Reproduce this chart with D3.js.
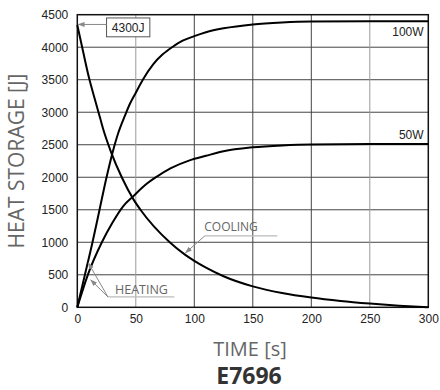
<!DOCTYPE html>
<html lang="en">
  <head>
    <meta charset="utf-8">
    <title>Heat storage</title>
    <script src="https://d3js.org/d3.v7.min.js"></script>
    <style>
      body { margin: 0; background: white; }
      .tick text { font-family: "Liberation Sans", Arial, sans-serif; font-size: 12px; fill: #222; }
      .lbl { font-family: "Open Sans", sans-serif; fill: #666; }
    </style>
  </head>
  <body>
    <svg width="440" height="390"></svg>
    <script>
      // tick values
      var timeTicks = [0, 50, 100, 150, 200, 250, 300];
      var storageTicks = [0, 500, 1000, 1500, 2000, 2500, 3000, 3500, 4000, 4500];

      // curves: [time s, heat J]
      var heating100W = [[0, 0], [6.5, 500], [13, 1000], [19, 1500], [25, 2000], [30, 2370], [35, 2680],
        [41, 2960], [45, 3130], [50, 3300], [56, 3500], [65, 3740], [73, 3890], [81, 4000], [90, 4100],
        [100, 4170], [110, 4230], [125, 4290], [150, 4350], [175, 4380], [200, 4395], [250, 4400], [300, 4400]];
      var heating50W = [[0, 0], [9, 500], [21, 1000], [30, 1300], [39, 1550], [48, 1710], [58, 1880],
        [68, 2010], [80, 2140], [96, 2260], [110, 2330], [125, 2400], [150, 2460], [175, 2490],
        [200, 2505], [250, 2510], [300, 2510]];
      var cooling = [[0, 4340], [5, 3930], [10, 3530], [15, 3200], [19.5, 2910], [22.3, 2730], [29, 2380],
        [38, 2000], [48, 1660], [54, 1500], [79, 1000], [92, 810], [100, 715], [110, 610], [125, 478],
        [150, 322], [175, 220], [200, 150], [225, 98], [250, 58], [275, 25], [300, 0]];

      function draw() {
        var svg = d3.select("svg");
        var pl = 77.3, pt = 14.7, pw = 351, ph = 292.6;
        var x = d3.scaleLinear().domain([0, 300]).range([pl, pl + pw]);
        var y = d3.scaleLinear().domain([0, 4500]).range([pt + ph, pt]);

        var defs = svg.append("defs");
        defs.append("marker").attr("id", "arr").attr("viewBox", "0 0 10 10")
          .attr("refX", 9).attr("refY", 5).attr("markerWidth", 7).attr("markerHeight", 7)
          .attr("orient", "auto")
          .append("path").attr("d", "M0,1.5 L10,5 L0,8.5 Z").attr("fill", "#888");

        // grid
        svg.append("g").selectAll("line").data(storageTicks.slice(1, -1)).enter().append("line")
          .attr("x1", pl).attr("x2", pl + pw)
          .attr("y1", function(d) { return y(d); }).attr("y2", function(d) { return y(d); })
          .attr("stroke", "#444").attr("stroke-width", 1);
        svg.append("g").selectAll("line").data(timeTicks.slice(1, -1)).enter().append("line")
          .attr("y1", pt).attr("y2", pt + ph)
          .attr("x1", function(d) { return x(d); }).attr("x2", function(d) { return x(d); })
          .attr("stroke", function(d) { return (d == 50 || d == 250) ? "#999" : "#444"; })
          .attr("stroke-width", 1);

        // axes
        svg.append("g").attr("transform", "translate(0," + (pt + ph) + ")")
          .call(d3.axisBottom(x).tickValues(timeTicks).tickSize(0).tickPadding(7).tickFormat(d3.format("d")))
          .call(function(g) { g.select(".domain").remove(); });
        svg.append("g").attr("transform", "translate(" + pl + ",0)")
          .call(d3.axisLeft(y).tickValues(storageTicks).tickSize(0).tickPadding(9).tickFormat(d3.format("d")))
          .call(function(g) { g.select(".domain").remove(); });

        svg.append("rect").attr("x", pl).attr("y", pt).attr("width", pw).attr("height", ph)
          .attr("fill", "none").attr("stroke", "#111").attr("stroke-width", 1.5);

        // curves
        var line = d3.line().x(function(d) { return x(d[0]); }).y(function(d) { return y(d[1]); })
          .curve(d3.curveMonotoneX);
        [heating100W, heating50W, cooling].forEach(function(s) {
          svg.append("path").datum(s).attr("d", line)
            .attr("fill", "none").attr("stroke", "#000").attr("stroke-width", 2);
        });

        // annotations
        svg.append("rect").attr("x", x(25)).attr("y", y(4450))
          .attr("width", x(62) - x(25)).attr("height", y(4160) - y(4450))
          .attr("fill", "white").attr("stroke", "#555").attr("stroke-width", 1);
        svg.append("text").attr("x", x(43.5)).attr("y", y(4300) + 4)
          .attr("text-anchor", "middle").attr("font-family", "Liberation Sans, Arial, sans-serif")
          .attr("font-size", 12).attr("fill", "#222").text("4300J");
        svg.append("line").attr("x1", x(25)).attr("x2", x(0.8)).attr("y1", y(4350)).attr("y2", y(4350))
          .attr("stroke", "#888").attr("stroke-width", 1).attr("marker-end", "url(#arr)");

        svg.append("text").attr("x", x(296)).attr("y", y(4180)).attr("text-anchor", "end")
          .attr("font-family", "Liberation Sans, Arial, sans-serif").attr("font-size", 12)
          .attr("fill", "#222").text("100W");
        svg.append("text").attr("x", x(296)).attr("y", y(2590)).attr("text-anchor", "end")
          .attr("font-family", "Liberation Sans, Arial, sans-serif").attr("font-size", 12)
          .attr("fill", "#222").text("50W");

        // cooling label
        svg.append("text").attr("class", "lbl").attr("x", x(108.5)).attr("y", y(1180))
          .attr("font-size", 12).text("COOLING");
        svg.append("line").attr("x1", x(109)).attr("x2", x(171)).attr("y1", y(1099)).attr("y2", y(1099))
          .attr("stroke", "#bbb").attr("stroke-width", 1.2);
        svg.append("line").attr("x1", x(109)).attr("y1", y(1099)).attr("x2", x(92.5)).attr("y2", y(837))
          .attr("stroke", "#888").attr("stroke-width", 1).attr("marker-end", "url(#arr)");

        // heating label
        svg.append("text").attr("class", "lbl").attr("x", x(32.2)).attr("y", y(205))
          .attr("font-size", 12.5).text("HEATING");
        svg.append("line").attr("x1", x(26.2)).attr("x2", x(83)).attr("y1", y(159)).attr("y2", y(159))
          .attr("stroke", "#bbb").attr("stroke-width", 1.2);
        svg.append("line").attr("x1", x(26.2)).attr("y1", y(159)).attr("x2", x(9.4)).attr("y2", y(683))
          .attr("stroke", "#888").attr("stroke-width", 1).attr("marker-end", "url(#arr)");
        svg.append("line").attr("x1", x(26.2)).attr("y1", y(159)).attr("x2", x(11.5)).attr("y2", y(421))
          .attr("stroke", "#888").attr("stroke-width", 1).attr("marker-end", "url(#arr)");

        // titles
        svg.append("text").attr("class", "lbl").attr("transform", "translate(24," + (pt + ph / 2) + ") rotate(-90)")
          .attr("text-anchor", "middle").attr("font-size", 21).attr("fill", "#555").text("HEAT STORAGE [J]");
        svg.append("text").attr("class", "lbl").attr("x", 250).attr("y", 356)
          .attr("text-anchor", "middle").attr("font-size", 20).attr("fill", "#555").text("TIME [s]");
        svg.append("text").attr("x", 249).attr("y", 384).attr("text-anchor", "middle")
          .attr("font-family", "Open Sans, sans-serif").attr("font-weight", "bold")
          .attr("font-size", 23).attr("fill", "#333").text("E7696");
      }
      draw();
    </script>
  </body>
</html>
